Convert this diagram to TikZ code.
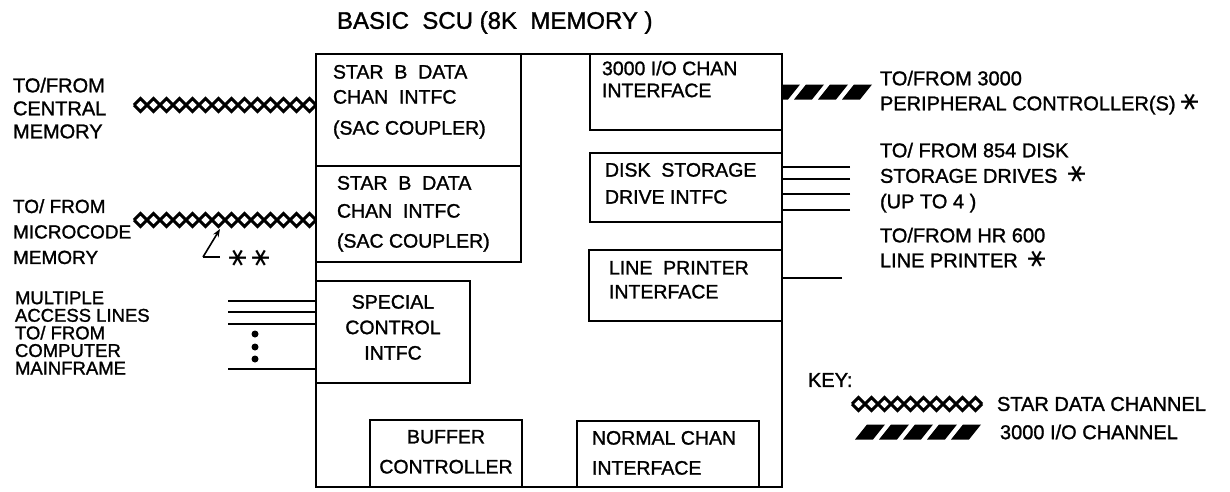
\documentclass[tikz,border=0pt]{standalone}
\usepackage{fontspec}
\setmainfont{Liberation Sans}[FakeBold=1.3]
\newfontfamily\symfont{DejaVu Sans}
\usetikzlibrary{arrows.meta,calc,decorations.pathmorphing}
\newcommand\astk{\scalebox{1.35}{\rotatebox[origin=c]{90}{\symfont ∗}}}

\begin{document}
\begin{tikzpicture}[x=1pt,y=-1pt,
  every node/.style={inner sep=0pt,outer sep=0pt},
  unit/.style={draw,line width=2.2pt,anchor=north west},
  txt/.style={anchor=north west,align=left,font={\fontsize{19.5}{#1}\selectfont}},
  txt/.default=25,
  lbl/.style={anchor=north west,align=left,font={\fontsize{20}{#1}\selectfont}},
  lbl/.default=25,
  wire/.style={line width=1.8pt},
  starchan/.style={
    preaction={draw,line width=3pt,decorate,decoration={zigzag,segment length=26pt,amplitude=6.5pt}},
    postaction={draw,line width=3pt,decorate,decoration={zigzag,segment length=26pt,amplitude=6.5pt,mirror}}},
]
\useasboundingbox (0,0) rectangle (1230,491);

% SCU outline and its units
\node[unit,minimum width=466,minimum height=433] (scu)  at (316,54)  {};
\node[unit,minimum width=205,minimum height=112] (sac1) at (316,54)  {};
\node[unit,minimum width=205,minimum height=96]  (sac2) at (316,166) {};
\node[unit,minimum width=154,minimum height=102] (spc)  at (316,281) {};
\node[unit,minimum width=152,minimum height=67]  (buf)  at (370,420) {};
\node[unit,minimum width=182,minimum height=66]  (nrm)  at (577,421) {};
\node[unit,minimum width=192,minimum height=76]  (io)   at (590,54)  {};
\node[unit,minimum width=192,minimum height=69]  (dsk)  at (590,153) {};
\node[unit,minimum width=193,minimum height=71]  (lpr)  at (589,250) {};

\node[anchor=north west,font={\fontsize{24}{27}\selectfont}] (title) at (337,11.4)
  {BASIC\ \ SCU (8K\ \ MEMORY )};

% unit texts
\node[txt=25] (sac1t) at (333,65) {STAR\ \ B\ \ DATA\\CHAN\ \ INTFC\\[6pt](SAC COUPLER)};
\node[txt=28] (sac2t) at (337,176) {STAR\ \ B\ \ DATA\\CHAN\ \ INTFC\\[2pt](SAC COUPLER)};
\node[txt=25.5,anchor=north,align=center] (spct) at (393,295) {SPECIAL\\CONTROL\\INTFC};
\node[txt=30,anchor=north,align=center] (buft) at (446,430) {BUFFER\\CONTROLLER};
\node[txt=30] (nrmt) at (592,431) {NORMAL CHAN\\INTERFACE};
\node[txt=22] (iot)  at (602,61)  {3000 I/O CHAN\\INTERFACE};
\node[txt=27] (dskt) at (605,163) {DISK\ \ STORAGE\\DRIVE INTFC};
\node[txt=24] (lprt) at (609,261) {LINE\ \ PRINTER\\INTERFACE};

% left side
\node[lbl=23]   (cml) at (13,77.8)  {TO/FROM\\CENTRAL\\MEMORY};
\node[lbl=25.5,font={\fontsize{19}{25.5}\selectfont}] (mcl) at (13,199.2) {TO/ FROM\\MICROCODE\\MEMORY};
\node[lbl=17.6,font={\fontsize{18.5}{17.6}\selectfont}] (mal) at (15,291.4)
  {MULTIPLE\\ACCESS LINES\\TO/ FROM\\COMPUTER\\MAINFRAME};

\coordinate (cm) at (134,105);
\coordinate (mc) at (134,220);
\path[starchan] (cm) -- (cm -| scu.west);
\path[starchan] (mc) -- (mc -| scu.west);

\coordinate (arc) at (203,257);
\coordinate (art) at (220,229);
\draw[line width=1.6pt,-{Stealth[length=8pt,width=6pt]}] (arc) -- (art);
\draw[line width=1.6pt] (arc) -- ++(17,0);
\node[anchor=west,font=\fontsize{20}{24}\selectfont] (dast) at (230,258) {\astk\ \astk};

\foreach \n/\y in {m1/301,m2/312,m3/324,m4/369}{
  \coordinate (\n) at (228,\y);
  \draw[wire] (\n) -- (\n -| scu.west);
}
\foreach \y in {334,347,359}
  \fill (255,\y) circle (3.5pt);

% right side
\coordinate (pc) at (872,92);
\begin{scope}
  \clip ($(io.east |- pc)+(0,-9)$) rectangle ++(100,18);
  \foreach \i in {0,...,3}
    \fill ($(io.east |- pc)+(\i*24-12,7.5)$) -- ++(18,0) -- ++(12,-15) -- ++(-18,0) -- cycle;
\end{scope}
\node[lbl] (pcl) at (880,70.8) {TO/FROM 3000\\PERIPHERAL CONTROLLER(S)\ \astk};

\foreach \n/\y in {d1/167,d2/179,d3/194,d4/210}{
  \coordinate (\n) at (850,\y);
  \draw[wire] (\n) -- (\n -| dsk.east);
}
\node[lbl=25.5] (dkl) at (880,142.8) {TO/ FROM 854 DISK\\STORAGE DRIVES\ \ \astk\\(UP TO 4 )};

\coordinate (lp) at (842,278);
\draw[wire] (lp) -- (lp -| lpr.east);
\node[lbl] (lpl) at (880,227.8) {TO/FROM HR 600\\LINE PRINTER\ \ \astk};

% key
\node[anchor=west,font=\fontsize{20}{24}\selectfont] (key) at (808,380) {KEY:};
\coordinate (kst) at (852,404);
\coordinate (kste) at (982,404);
\path[starchan] (kst) -- (kste);
\node[anchor=west,font=\fontsize{20}{24}\selectfont] (kstl) at (997,404) {STAR DATA CHANNEL};
\coordinate (kio) at (855,432);
\foreach \i in {0,...,4}
  \fill ($(kio)+(\i*24,7.5)$) -- ++(18,0) -- ++(12,-15) -- ++(-18,0) -- cycle;
\node[anchor=west,font=\fontsize{20}{24}\selectfont] (kiol) at (1000,432) {3000 I/O CHANNEL};
\end{tikzpicture}
\end{document}
